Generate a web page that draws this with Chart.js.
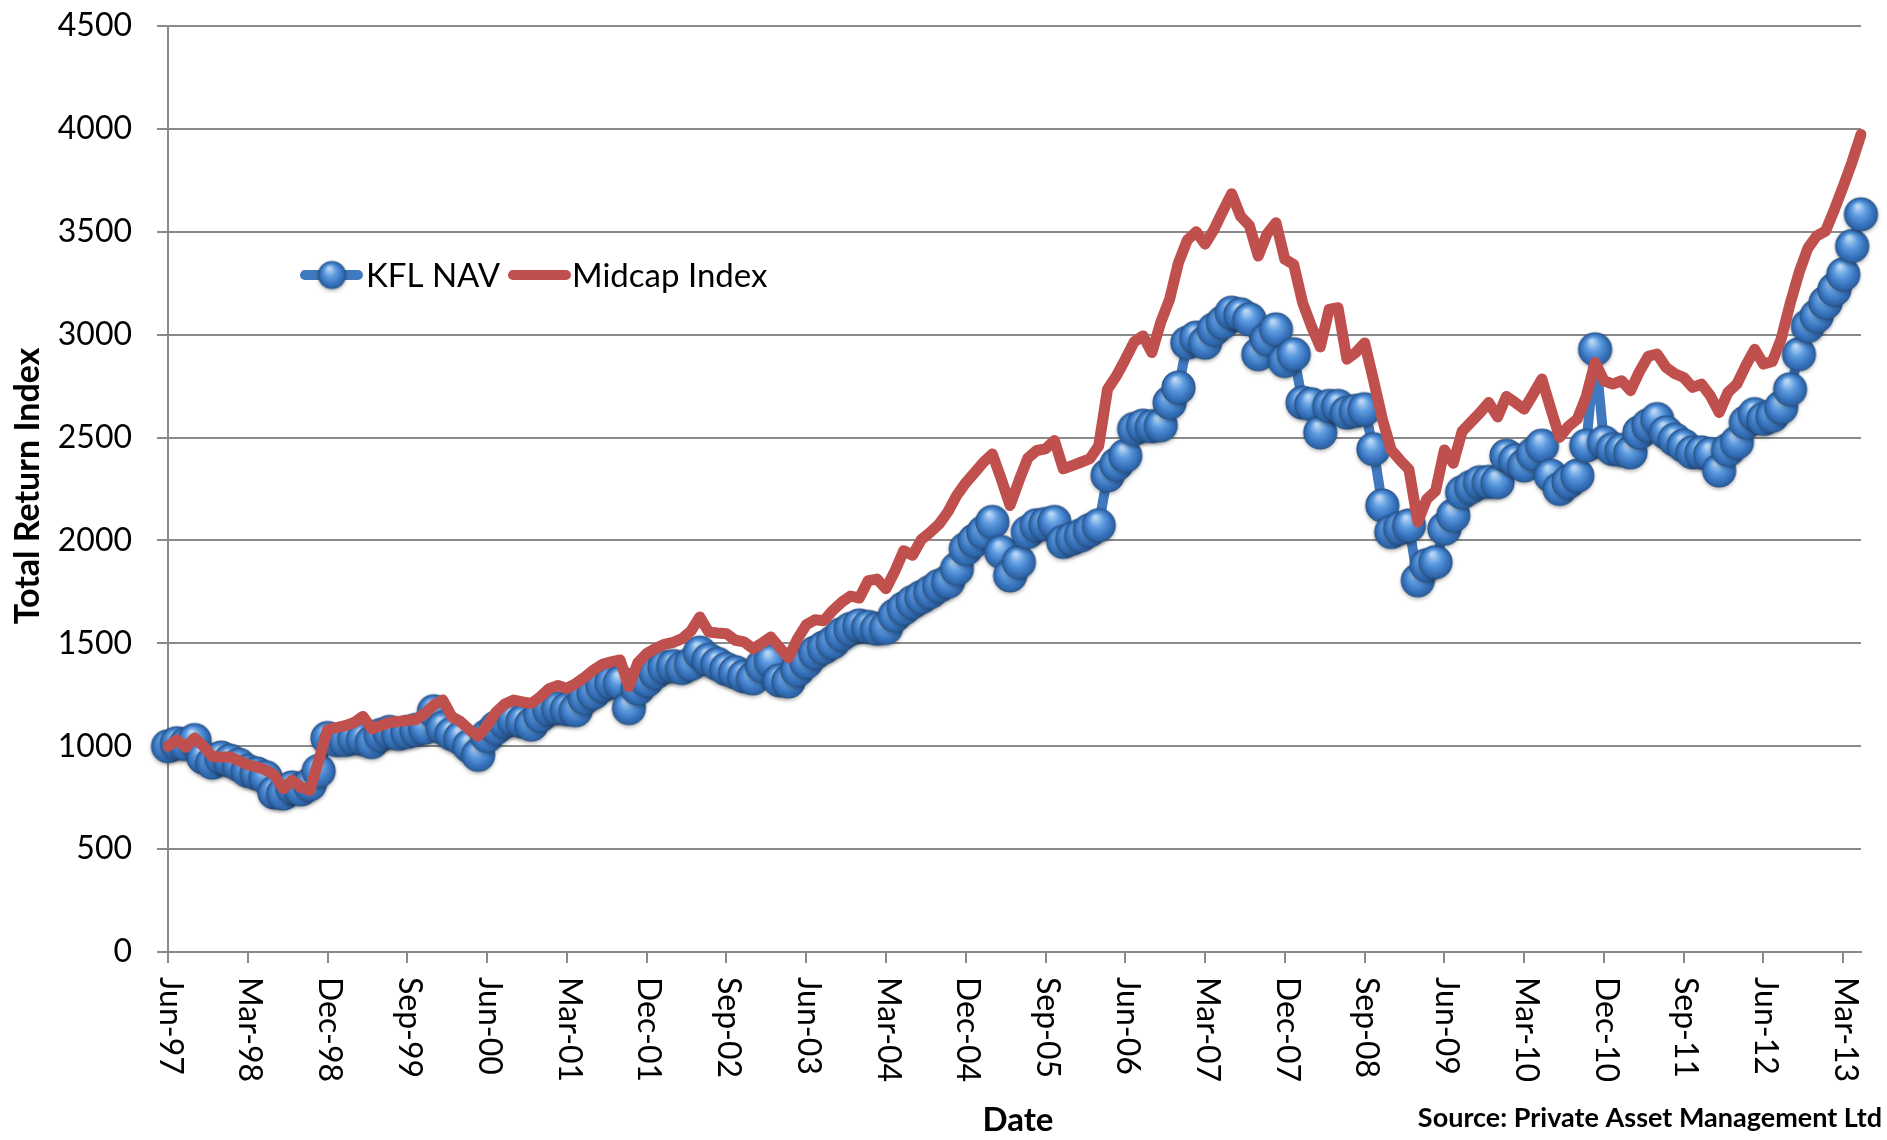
<!DOCTYPE html>
<html>
<head>
<meta charset="utf-8">
<title>KFL NAV vs Midcap Index</title>
<script src="https://cdn.jsdelivr.net/npm/chart.js@4.4.1/dist/chart.umd.min.js"></script>
<style>
  html, body { margin: 0; padding: 0; background: #ffffff; }
  #wrap { width: 1887px; height: 1140px; }
</style>
</head>
<body>
<div id="wrap"><canvas id="navChart" width="1887" height="1140"></canvas></div>
<script>
// --- DATA ---
const monthNames = ["Jan", "Feb", "Mar", "Apr", "May", "Jun", "Jul", "Aug", "Sep", "Oct", "Nov", "Dec"];
const firstMonth = { month: 5, year: 1997 }; // Jun-97
const monthCount = 192;                      // Jun-97 .. May-13

const tickLabels = [
  "Jun-97", "Mar-98", "Dec-98", "Sep-99", "Jun-00", "Mar-01", "Dec-01", "Sep-02",
  "Jun-03", "Mar-04", "Dec-04", "Sep-05", "Jun-06", "Mar-07", "Dec-07", "Sep-08",
  "Jun-09", "Mar-10", "Dec-10", "Sep-11", "Jun-12", "Mar-13"
];

const navValues = [
  1000, 1015, 1010, 1030, 945, 920, 945, 930, 910, 880, 868, 850,
  775, 770, 800, 790, 815, 880, 1040, 1030, 1030, 1040, 1035, 1020,
  1055, 1070, 1060, 1070, 1080, 1090, 1170, 1090, 1060, 1040, 1000, 958,
  1050, 1090, 1120, 1130, 1120, 1105, 1150, 1180, 1185, 1180, 1175, 1235,
  1260, 1295, 1310, 1310, 1185, 1280, 1320, 1360, 1385, 1390, 1380, 1400,
  1455, 1420, 1400, 1375, 1360, 1340, 1330, 1390, 1415, 1320, 1315, 1370,
  1410, 1455, 1480, 1505, 1545, 1570, 1587, 1580, 1571, 1575, 1636, 1670,
  1701, 1725, 1750, 1780, 1800, 1862, 1959, 2000, 2040, 2090, 1944, 1830,
  1895, 2041, 2074, 2080, 2090, 1993, 2009, 2025, 2050, 2074, 2316, 2370,
  2412, 2542, 2558, 2555, 2560, 2670, 2743, 2961, 2986, 2961, 3026, 3060,
  3107, 3099, 3075, 2905, 2978, 3026, 2872, 2905, 2670, 2662, 2525, 2654,
  2654, 2621, 2630, 2638, 2444, 2170, 2041, 2060, 2073, 1806, 1880, 1895,
  2057, 2122, 2234, 2260, 2283, 2285, 2283, 2412, 2390, 2364, 2420, 2461,
  2315, 2250, 2285, 2315, 2461, 2929, 2477, 2444, 2440, 2428, 2525, 2560,
  2590, 2525, 2490, 2461, 2428, 2428, 2420, 2340, 2440, 2477, 2574, 2614,
  2590, 2606, 2647, 2735, 2905, 3042, 3091, 3156, 3220, 3293, 3431, 3585
];

const midcapValues = [
  1000, 1030, 995, 1040, 1000, 950, 948, 948, 930, 910, 899, 885,
  860, 794, 834, 800, 786, 930, 1080, 1090, 1100, 1115, 1145, 1085,
  1100, 1115, 1120, 1125, 1130, 1160, 1200, 1225, 1145, 1120, 1080, 1050,
  1100, 1165, 1205, 1224, 1215, 1208, 1240, 1280, 1295, 1281, 1305, 1335,
  1370, 1398, 1410, 1419, 1290, 1405, 1450, 1475, 1495, 1505, 1523, 1560,
  1628, 1555, 1550, 1547, 1515, 1507, 1474, 1500, 1531, 1480, 1430, 1520,
  1590, 1615, 1610, 1660, 1700, 1730, 1720, 1805, 1812, 1765, 1850, 1950,
  1928, 2005, 2040, 2080, 2140, 2220, 2280, 2330, 2380, 2420, 2299, 2170,
  2290, 2400, 2437, 2445, 2486, 2348, 2364, 2380, 2397, 2460, 2735, 2800,
  2880, 2965, 2994, 2913, 3060, 3172, 3350, 3460, 3500, 3440, 3510, 3600,
  3685, 3576, 3530, 3382, 3490, 3544, 3366, 3341, 3156, 3040, 2940, 3123,
  3131, 2881, 2913, 2960, 2780, 2590, 2440, 2390, 2345, 2090, 2200, 2240,
  2440, 2375, 2530, 2575, 2620, 2670, 2600, 2700, 2670, 2638, 2710, 2784,
  2640, 2501, 2555, 2590, 2700, 2865, 2776, 2760, 2776, 2728, 2820, 2895,
  2906, 2841, 2810, 2792, 2744, 2760, 2703, 2622, 2720, 2760, 2850, 2929,
  2857, 2870, 2980, 3150, 3300, 3420, 3480, 3503, 3608, 3721, 3840, 3973
];

// Month labels for every data point ("Jun-97", "Jul-97", ...)
const categories = [];
for (let i = 0; i < monthCount; i++) {
  const m = (firstMonth.month + i) % 12;
  const y = firstMonth.year + Math.floor((firstMonth.month + i) / 12);
  categories.push(monthNames[m] + "-" + String(y % 100).padStart(2, "0"));
}

// --- STYLE ---
const FONT = "Lato, 'Open Sans', sans-serif";
const gridGray = "#8a8a8a";
const navBlue = "#4079bf";
const midcapRed = "#c0504d";

// Shaded sphere used as the KFL NAV marker
function makeSphere(d) {
  const pad = 6;
  const c = document.createElement("canvas");
  c.width = d + pad * 2;
  c.height = d + pad * 2;
  const g = c.getContext("2d");
  const r = d / 2, cx = c.width / 2, cy = c.height / 2;
  g.save();
  g.shadowColor = "rgba(0,0,0,0.35)";
  g.shadowBlur = 4;
  g.shadowOffsetY = 2;
  const grad = g.createRadialGradient(cx - r * 0.2, cy - r * 0.5, r * 0.08, cx, cy, r);
  grad.addColorStop(0, "#b9d6f4");
  grad.addColorStop(0.4, "#5d9be0");
  grad.addColorStop(0.8, "#3571bb");
  grad.addColorStop(1, "#2b5f9e");
  g.beginPath();
  g.arc(cx, cy, r, 0, Math.PI * 2);
  g.fillStyle = grad;
  g.fill();
  g.restore();
  g.lineWidth = 1.2;
  g.strokeStyle = "#2a5589";
  g.beginPath();
  g.arc(cx, cy, r, 0, Math.PI * 2);
  g.stroke();
  return c;
}

const sphere = makeSphere(33);
const legendSphere = makeSphere(27);

// Texts the library does not place the way Excel does: rotated month ticks, titles, legend, source
const extrasPlugin = {
  id: "extras",
  afterDraw(chart) {
    const ctx = chart.ctx;
    const xScale = chart.scales.x;

    // x tick labels, rotated clockwise
    ctx.save();
    ctx.fillStyle = "#000";
    ctx.font = "32px " + FONT;
    ctx.textAlign = "left";
    ctx.textBaseline = "middle";
    tickLabels.forEach((label) => {
      const idx = categories.indexOf(label);
      const x = xScale.getPixelForValue(idx);
      ctx.save();
      ctx.translate(x + 2, 977);
      ctx.rotate(Math.PI / 2);
      ctx.fillText(label, 0, 0);
      ctx.restore();
    });
    ctx.restore();

    // axis titles and source
    ctx.save();
    ctx.fillStyle = "#000";
    ctx.textAlign = "center";
    ctx.textBaseline = "middle";
    ctx.font = "bold 34px " + FONT;
    ctx.save();
    ctx.translate(28, 486);
    ctx.rotate(-Math.PI / 2);
    ctx.fillText("Total Return Index", 0, 0);
    ctx.restore();
    ctx.font = "bold 33px " + FONT;
    ctx.textBaseline = "alphabetic";
    ctx.fillText("Date", 1018, 1131);
    ctx.font = "bold 27px " + FONT;
    ctx.textAlign = "right";
    ctx.fillText("Source: Private Asset Management Ltd", 1882, 1127);
    ctx.restore();

    // legend
    const ly = 275;
    ctx.save();
    ctx.lineCap = "round";
    ctx.lineWidth = 10;
    ctx.strokeStyle = navBlue;
    ctx.beginPath();
    ctx.moveTo(305, ly);
    ctx.lineTo(358, ly);
    ctx.stroke();
    ctx.drawImage(legendSphere, 332 - legendSphere.width / 2, ly - legendSphere.height / 2);
    ctx.strokeStyle = midcapRed;
    ctx.beginPath();
    ctx.moveTo(513, ly);
    ctx.lineTo(566, ly);
    ctx.stroke();
    ctx.fillStyle = "#000";
    ctx.font = "33px " + FONT;
    ctx.textAlign = "left";
    ctx.textBaseline = "middle";
    ctx.fillText("KFL NAV", 366, ly + 1);
    ctx.fillText("Midcap Index", 572, ly + 1);
    ctx.restore();
  }
};

const ctx = document.getElementById("navChart").getContext("2d");

new Chart(ctx, {
  type: "line",
  data: {
    labels: categories,
    datasets: [
      {
        label: "Midcap Index",
        data: midcapValues,
        borderColor: midcapRed,
        borderWidth: 11,
        borderJoinStyle: "round",
        borderCapStyle: "round",
        pointRadius: 0,
        tension: 0,
        order: 0
      },
      {
        label: "KFL NAV",
        data: navValues,
        borderColor: navBlue,
        borderWidth: 10,
        borderJoinStyle: "round",
        pointStyle: sphere,
        pointRadius: 16,
        tension: 0,
        order: 1
      }
    ]
  },
  options: {
    responsive: false,
    animation: false,
    devicePixelRatio: 1,
    layout: { padding: { top: 23, right: 17, left: 0, bottom: 0 } },
    plugins: {
      legend: { display: false },
      tooltip: { enabled: false }
    },
    scales: {
      x: {
        type: "category",
        offset: false,
        afterFit(scale) {
          scale.height = 188;
          scale.paddingLeft = 0;
          scale.paddingRight = 0;
        },
        border: { display: true, color: gridGray, width: 2 },
        grid: {
          display: true,
          drawOnChartArea: false,
          drawTicks: true,
          tickLength: 11,
          lineWidth: 2,
          tickColor: (c) => (tickLabels.includes(categories[c.index]) ? gridGray : "rgba(0,0,0,0)")
        },
        ticks: { display: false, autoSkip: false }
      },
      y: {
        min: 0,
        max: 4500,
        afterFit(scale) {
          scale.width = 168;
          scale.paddingTop = 0;
          scale.paddingBottom = 0;
        },
        border: { display: true, color: gridGray, width: 2 },
        grid: { color: gridGray, lineWidth: 2, tickLength: 11 },
        ticks: {
          stepSize: 500,
          padding: 25,
          color: "#000",
          font: { family: FONT, size: 32 },
          callback: (value) => String(value)
        }
      }
    }
  },
  plugins: [extrasPlugin]
});
</script>
</body>
</html>
